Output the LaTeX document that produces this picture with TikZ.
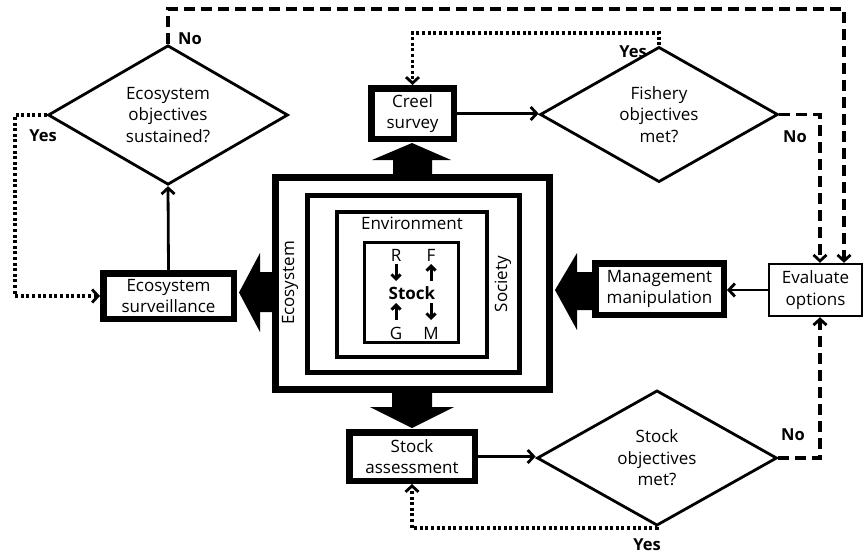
\documentclass[tikz,border=0pt]{standalone}
\usepackage{fontspec}
\setmainfont{Open Sans}
\usetikzlibrary{arrows.meta,shapes.geometric}
\begin{document}
\begin{tikzpicture}[x=1pt,y=-1pt,
  fs/.style={font=\fontsize{17}{21.5}\selectfont},
  txt/.style={fs, align=center, inner sep=0pt},
  lbl/.style={font=\fontsize{16.5}{21}\selectfont\bfseries, inner sep=0pt},
  thickbox/.style={draw, line width=6.5pt, fill=white, inner sep=0pt, align=center, fs},
  thinbox/.style={draw, line width=2.4pt, fill=white, inner sep=0pt, align=center, fs},
  ring/.style={draw, inner sep=0pt},
  decision/.style={diamond, draw, line width=2.8pt, inner sep=0pt, align=center, fs},
  conn/.style={line width=2.8pt, -{Straight Barb[length=6pt,width=13pt]}},
  dsh/.style={line width=3.4pt, dash pattern=on 11pt off 6pt, -{Straight Barb[length=6pt,width=13pt,line width=2.8pt]}},
  dot/.style={line width=3.2pt, dash pattern=on 3pt off 2.6pt, -{Straight Barb[length=6pt,width=13pt,line width=2.8pt]}},
  small/.style={line width=3pt, -{Straight Barb[length=4.5pt,width=9pt]}},
  block/.style={fill=black, draw=none}
]
\useasboundingbox (0,0) rectangle (864,554);

% block arrows
\fill[block] (393,178) -- (393,160) -- (372,160) -- (412,143) -- (451,160) -- (432,160) -- (432,178) -- cycle;
\fill[block] (392,389) -- (392,407) -- (370,407) -- (412,428) -- (454,407) -- (432,407) -- (432,389) -- cycle;
\fill[block] (276,272) -- (260,272) -- (260,253) -- (239,292.5) -- (260,332) -- (260,312) -- (276,312) -- cycle;
\fill[block] (595,272) -- (577,272) -- (577,253) -- (555,290) -- (577,330) -- (577,310) -- (595,310) -- cycle;

% concentric boxes
\node[ring, line width=7pt, minimum width=274pt, minimum height=212pt] (eco) at (412.5,283.5) {};
\node[ring, line width=5pt, minimum width=212pt, minimum height=177pt] (soc) at (413.5,284) {};
\node[ring, line width=4pt, minimum width=150pt, minimum height=145pt] (env) at (412,284.5) {};
\node[ring, line width=3pt, minimum width=94pt, minimum height=100pt] (stk) at (411.5,292.5) {};

\node[txt] (envt) at (412,223) {Environment};
\node[txt, rotate=90] (ecot) at (290,283) {Ecosystem};
\node[txt, rotate=90] (soct) at (503,284) {Society};

\node[txt] (R) at (396,255) {R};
\node[txt] (F) at (431,255) {F};
\node[txt, font=\fontsize{17}{21}\selectfont\bfseries] (S) at (412,293) {Stock};
\node[txt] (G) at (396,333) {G};
\node[txt] (M) at (431,333) {M};
\draw[small] (396,264) -- (396,281);
\draw[small] (431,281) -- (431,264);
\draw[small] (396,320) -- (396,303);
\draw[small] (431,303) -- (431,320);

% process boxes
\node[thickbox, minimum width=130.5pt, minimum height=45.5pt] (surv) at (168.5,296) {Ecosystem\\surveillance};
\node[thickbox, minimum width=82.5pt, minimum height=50.5pt] (creel) at (412.5,113.5) {Creel\\survey};
\node[thickbox, minimum width=128.5pt, minimum height=51.5pt] (mgmt) at (659.5,289) {Management\\manipulation};
\node[thickbox, minimum width=125.5pt, minimum height=48.5pt] (sa) at (412,456.5) {Stock\\assessment};
\node[thinbox, minimum width=93pt, minimum height=52pt] (eval) at (815.5,290) {Evaluate\\options};

% decisions
\node[decision, minimum width=240pt, minimum height=98pt] (ecod) at (168,115) {Ecosystem\\objectives\\sustained?};
\node[decision, minimum width=238pt, minimum height=97pt] (fish) at (659,114.5) {Fishery\\objectives\\met?};
\node[decision, minimum width=240pt, minimum height=98pt] (sd) at (657,458) {Stock\\objectives\\met?};

% solid connectors
\draw[conn] (surv.north) -- (ecod.south);
\draw[conn] (creel.east) -- (creel.east -| fish.west);
\draw[conn] (sa.east) -- (sa.east -| sd.west);
\draw[conn] (eval.west) -- (eval.west -| mgmt.east);

% dashed (No) connectors
\coordinate (topR) at (844,9);
\draw[dsh] (ecod.north) |- (topR) -- (topR |- eval.north);
\coordinate (fishR) at (820,114.5);
\draw[dsh] (fish.east) -- (fishR) -- (fishR |- eval.north);
\coordinate (sdR) at (820,458);
\draw[dsh] (sd.east) -- (sdR) -- (sdR |- eval.south);

% dotted (Yes) connectors
\coordinate (fishT) at (659,33);
\draw[dot] (fish.north) -- (fishT) -| (creel.north);
\coordinate (sdB) at (657,528);
\draw[dot] (sd.south) -- (sdB) -| (sa.south);
\coordinate (ecoL) at (15,115);
\draw[dot] (ecod.west) -- (ecoL) |- (surv.west);

% labels
\node[lbl] (no1) at (190,39) {No};
\node[lbl] (yes1) at (43,136) {Yes};
\node[lbl] (yes2) at (633,52) {Yes};
\node[lbl] (no2) at (795,137) {No};
\node[lbl] (no3) at (793,435) {No};
\node[lbl] (yes3) at (647,545) {Yes};
\end{tikzpicture}
\end{document}
